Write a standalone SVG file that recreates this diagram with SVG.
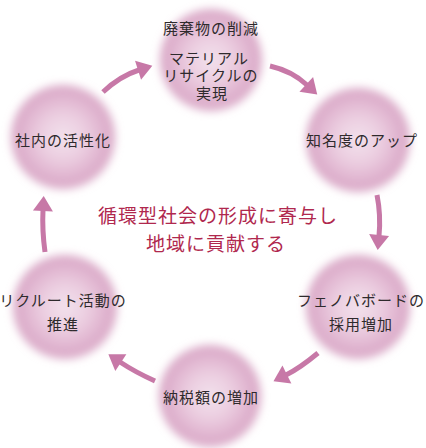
<svg xmlns="http://www.w3.org/2000/svg" width="426" height="448" viewBox="0 0 426 448">
  <defs>
    <radialGradient id="blob" cx="0.5" cy="0.5" r="0.5">
      <stop offset="0" stop-color="#f3e2ec"/>
      <stop offset="0.45" stop-color="#ebcde0"/>
      <stop offset="0.8" stop-color="#dfb2ce"/>
      <stop offset="1" stop-color="#d9a8c6"/>
    </radialGradient>
    <filter id="soft" x="-30%" y="-30%" width="160%" height="160%">
      <feGaussianBlur stdDeviation="4.5"/>
    </filter>
    <marker id="head" markerUnits="userSpaceOnUse" markerWidth="20" markerHeight="22" refX="1" refY="10" orient="auto" overflow="visible">
      <path d="M0,0 L15,10 L0,20 z" fill="#c778a7"/>
    </marker>
    <style>
      .blob { fill: url(#blob); filter: url(#soft); }
      .t { font-family: "Liberation Sans", "Noto Sans CJK JP", sans-serif; font-size: 15px; fill: #2e2a2c; text-anchor: middle; letter-spacing: 1px; }
      .c { font-family: "Noto Sans CJK JP", "Noto Sans", sans-serif; font-size: 19px; fill: #b0284e; text-anchor: middle; letter-spacing: 1px; }
      .a { fill: none; stroke: #c778a7; stroke-width: 5; stroke-linecap: butt; marker-end: url(#head); }
    </style>
  </defs>
  <rect width="426" height="448" fill="#ffffff"/>

  <g id="node-top">
    <circle class="blob" cx="211" cy="60" r="51"/>
    <text class="t" x="211" y="34">廃棄物の削減</text>
    <text class="t" x="209" y="64">マテリアル</text>
    <text class="t" x="211" y="81">リサイクルの</text>
    <text class="t" x="212" y="99">実現</text>
  </g>
  <g id="node-awareness">
    <circle class="blob" cx="358" cy="140" r="52"/>
    <text class="t" x="362" y="146">知名度のアップ</text>
  </g>
  <g id="node-hiring">
    <circle class="blob" cx="358" cy="307" r="52"/>
    <text class="t" x="361" y="306">フェノバボードの</text>
    <text class="t" x="361" y="330">採用増加</text>
  </g>
  <g id="node-tax">
    <circle class="blob" cx="210" cy="396" r="51"/>
    <text class="t" x="211" y="403">納税額の増加</text>
  </g>
  <g id="node-recruit">
    <circle class="blob" cx="65" cy="307" r="52"/>
    <text class="t" x="63" y="306">リクルート活動の</text>
    <text class="t" x="63" y="330">推進</text>
  </g>
  <g id="node-internal">
    <circle class="blob" cx="63" cy="137" r="52"/>
    <text class="t" x="63" y="146">社内の活性化</text>
  </g>

  <g id="center">
    <text class="c" x="218" y="223">循環型社会の形成に寄与し</text>
    <text class="c" x="216" y="251">地域に貢献する</text>
  </g>

  <g id="connectors">
    <path class="a" d="M103,92 Q120,76 139,70"/>
    <path class="a" d="M270,66 Q292,71 307,85"/>
    <path class="a" d="M377,195 Q381,215 379,236"/>
    <path class="a" d="M318,353 Q300,368 286,375"/>
    <path class="a" d="M155,381 Q135,372 120,362"/>
    <path class="a" d="M45,252 Q42,230 43,210"/>
  </g>
</svg>
